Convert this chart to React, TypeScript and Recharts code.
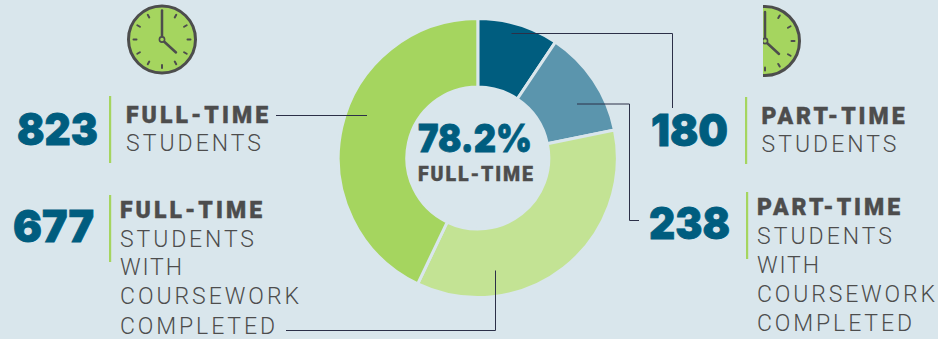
import React from "react";
import { PieChart, Pie, Cell } from "recharts";

const categories = ["Part-time students", "Part-time with coursework completed", "Full-time with coursework completed", "Full-time students"];
const values = [180, 238, 677, 823];
const colors = ["#005d7f", "#5b95ad", "#c3e394", "#a5d55f"];
const data = categories.map((name, i) => ({ name, value: values[i] }));

const BG = "#d9e6ec";
const INK = "#4d4d4d";
const TEAL = "#005d7f";
const LINE = "#2c3048";
const BODY = "Roboto, sans-serif";
const NUM = "Inter, sans-serif";

type TP = { x: number; y: number; w: number; t: string; bold?: boolean; size?: number };
const Lab = ({ x, y, w, t, bold, size = 23 }: TP) => (
  <text x={x} y={y} textLength={w} lengthAdjust="spacing" fontFamily={BODY} fontWeight={bold ? 900 : 300} fontSize={size} fill={INK} stroke={bold ? INK : "none"} strokeWidth={bold ? 0.4 : 0}>{t}</text>
);
const Num = ({ x, y, w, t, size = 44 }: TP) => (
  <text x={x} y={y} textLength={w} lengthAdjust="spacingAndGlyphs" fontFamily={NUM} fontWeight={900} fontSize={size} fill={TEAL} stroke={TEAL} strokeWidth={0.8}>{t}</text>
);

const Clock = ({ cx, cy, r, half }: { cx: number; cy: number; r: number; half?: boolean }) => {
  const angles = [30, 60, 90, 120, 150, 180, 210, 240, 270, 300, 330];
  return (
    <g clipPath={half ? "url(#halfClip)" : undefined}>
      <circle cx={cx} cy={cy} r={r} fill="#a5d55f" stroke={INK} strokeWidth={3} />
      {angles.map((a) => {
        const s = Math.sin((a * Math.PI) / 180);
        const c = -Math.cos((a * Math.PI) / 180);
        return <line key={a} x1={cx + s * (r - 8)} y1={cy + c * (r - 8)} x2={cx + s * (r - 5)} y2={cy + c * (r - 5)} stroke={INK} strokeWidth={2} strokeLinecap="round" />;
      })}
      <line x1={cx} y1={cy - 3} x2={cx} y2={cy - 29} stroke={INK} strokeWidth={2.5} strokeLinecap="round" />
      <line x1={cx + 2} y1={cy + 2} x2={cx + 14} y2={cy + 13} stroke={INK} strokeWidth={2.5} strokeLinecap="round" />
      <circle cx={cx} cy={cy} r={2.6} fill="#a5d55f" stroke={INK} strokeWidth={1.6} />
    </g>
  );
};

export default function App() {
  return (
    <div style={{ position: "absolute", left: 0, top: 0, width: 938, height: 339, background: BG, overflow: "hidden" }}>
      <PieChart width={938} height={339} margin={{ top: 0, right: 0, bottom: 0, left: 0 }}>
        <Pie data={data} dataKey="value" nameKey="name" cx={477.8} cy={158} innerRadius={71} outerRadius={139.5} startAngle={90} endAngle={-270} stroke={BG} strokeWidth={3} isAnimationActive={false}>
          {data.map((d, i) => <Cell key={d.name} fill={colors[i]} />)}
        </Pie>
      </PieChart>
      <svg width={938} height={339} style={{ position: "absolute", left: 0, top: 0 }}>
        <defs>
          <clipPath id="halfClip"><rect x={763} y={0} width={60} height={90} /></clipPath>
        </defs>
        <Clock cx={162} cy={39.5} r={33.5} />
        <Clock cx={765} cy={41} r={34.5} half />

        <g fill="none" stroke={LINE} strokeWidth={1}>
          <path d="M276 115.5H367" />
          <path d="M286 330.5H495.5V270.5" />
          <path d="M511.5 33.5H672.5V108" />
          <path d="M577 104H629.5V220.5H639" />
        </g>

        <g fill="#a5d55f">
          <rect x={109} y={96} width={2.2} height={67} />
          <rect x={109} y={195} width={2.2} height={67} />
          <rect x={745} y={97} width={2.2} height={67} />
          <rect x={746} y={192} width={2.2} height={67} />
        </g>

        <Num x={17} y={145} w={81} t="823" />
        <Num x={13} y={242} w={81} t="677" />
        <Num x={651} y={145.5} w={77} t="180" />
        <Num x={649} y={238.5} w={81} t="238" />
        <Num x={418} y={152} w={114} t="78.2%" size={39} />
        <text x={418} y={180.7} textLength={115} lengthAdjust="spacing" fontFamily={BODY} fontWeight={900} fontSize={19.5} fill={INK} stroke={INK} strokeWidth={0.4}>FULL-TIME</text>

        <Lab x={126} y={122.7} w={142} t="FULL-TIME" bold />
        <Lab x={126} y={150.7} w={135} t="STUDENTS" />
        <Lab x={120} y={218} w={142} t="FULL-TIME" bold />
        <Lab x={120} y={246.7} w={134} t="STUDENTS" />
        <Lab x={120} y={275} w={62} t="WITH" />
        <Lab x={120} y={304} w={179} t="COURSEWORK" />
        <Lab x={120} y={333.7} w={155} t="COMPLETED" />

        <Lab x={761.5} y={124} w={143} t="PART-TIME" bold />
        <Lab x={761.5} y={151.7} w={135} t="STUDENTS" />
        <Lab x={757} y={214.7} w={143} t="PART-TIME" bold />
        <Lab x={757} y={243.7} w={135} t="STUDENTS" />
        <Lab x={757} y={272.7} w={62} t="WITH" />
        <Lab x={757} y={301.7} w={178} t="COURSEWORK" />
        <Lab x={757} y={330.7} w={155} t="COMPLETED" />
      </svg>
    </div>
  );
}
